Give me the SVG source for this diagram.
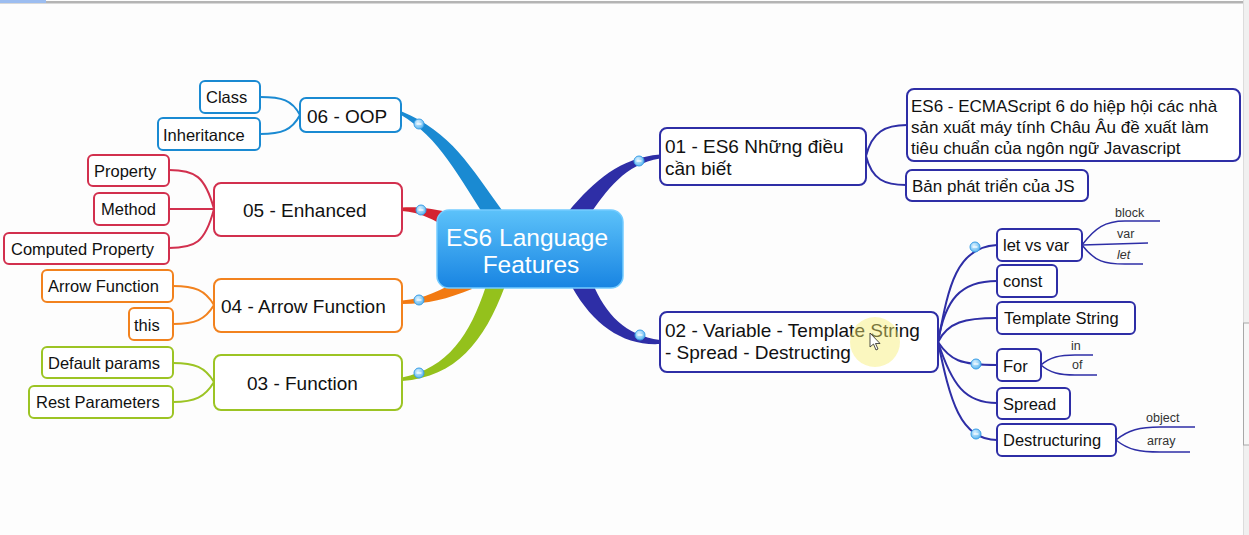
<svg xmlns="http://www.w3.org/2000/svg" width="1249" height="535" viewBox="0 0 1249 535">
<defs>
<linearGradient id="cg" x1="0" y1="0" x2="0" y2="1">
<stop offset="0" stop-color="#5cc2fa"/>
<stop offset="1" stop-color="#1884e2"/>
</linearGradient>
<radialGradient id="dg" cx="0.4" cy="0.35" r="0.7">
<stop offset="0" stop-color="#d8f0ff"/>
<stop offset="1" stop-color="#58b4ee"/>
</radialGradient>
<symbol id="dot" overflow="visible">
<circle cx="0" cy="0" r="5" fill="url(#dg)" stroke="#3a9ee6" stroke-width="1"/>
<line x1="-2.5" y1="0" x2="2.5" y2="0" stroke="#ffffff" stroke-width="1.2"/>
</symbol>
</defs>
<style>
.t{font-family:"Liberation Sans",Arial,sans-serif;fill:#111}
.m{font-size:19px}
.s{font-size:16.5px}
.l{font-size:12.5px;fill:#333}
.box{fill:#ffffff;stroke-width:2}
.b{stroke:#1a8ad2}
.r{stroke:#d2304e}
.o{stroke:#f2821e}
.g{stroke:#9cc424}
.n{stroke:#2e2ea6}
.c{fill:none;stroke-width:2}
.lf{fill:none;stroke:#2e2ea6;stroke-width:1.5}
</style>
<rect width="1249" height="535" fill="#fdfdfd"/>
<rect x="0" y="1" width="1243" height="2.5" fill="#b4b4b4"/>
<rect x="0" y="0" width="46" height="3" fill="#9cbdf0"/>
<rect x="1243" y="0" width="6" height="535" fill="#f0f0f0"/>
<line x1="1243.5" y1="0" x2="1243.5" y2="535" stroke="#dcdcdc"/>
<rect x="1243.5" y="323" width="6" height="122" fill="#f7f7f7" stroke="#a8a8a8"/>

<g id="connectors">
<path d="M504,213 C470,166 451,132 401.7,111.5 L400.3,114.5 C440,138 458,176 489,223 Z" fill="#1a8ad2"/>
<path d="M455,214 C435,209 420,206.5 402,207.5 L402,211 C420,212 435,220 450,230 Z" fill="#d42432"/>
<path d="M462,279 C440,290 425,299 402,300.5 L402,304 C428,304 447,299 472,289 Z" fill="#f27a12"/>
<path d="M486,286 C470,335 448,368 402,377.5 L402,381 C456,377 484,342 505,286 Z" fill="#94c11c"/>
<path d="M568,212 C595,180 620,158 660,154.5 L660,158.5 C625,164 607,190 588,217 Z" fill="#2e2ea6"/>
<path d="M592,282 C606,315 625,335 660,340 L660,344 C624,346 594,326 572,287 Z" fill="#2e2ea6"/>

<path class="c b" d="M300,115 C292,100 282,97 260,97"/>
<path class="c b" d="M300,115 C292,130 282,134 260,134"/>
<path class="c r" d="M214,209 C205,176 195,170 169,170"/>
<path class="c r" d="M214,209 L169,209"/>
<path class="c r" d="M214,209 C205,243 195,248 169,248"/>
<path class="c o" d="M214,305 C205,290 195,286 173,286"/>
<path class="c o" d="M214,305 C205,320 195,324 173,324"/>
<path class="c g" d="M214,382 C205,367 195,363 173,363"/>
<path class="c g" d="M214,382 C205,397 195,402 173,402"/>
<path class="c n" d="M866,156 C872,132 885,125 907,125"/>
<path class="c n" d="M866,156 C872,180 885,185 906,185"/>

<path class="c n" stroke-width="3.2" d="M938,342 C948,290 955,247 997,245"/>
<path class="c n" d="M938,342 C945,300 960,281 997,281"/>
<path class="c n" d="M938,342 C948,322 965,318 997,318"/>
<path class="c n" stroke-width="3.2" d="M938,342 C950,360 960,365 997,365"/>
<path class="c n" d="M938,342 C952,385 965,403 997,403"/>
<path class="c n" stroke-width="3.2" d="M938,342 C950,400 960,440 997,440"/>

<path class="lf" d="M1082,245 C1095,228 1105,221 1125,221 L1160,221"/>
<path class="lf" d="M1082,245 L1148,243"/>
<path class="lf" d="M1082,245 C1095,262 1105,264 1125,264 L1143,264"/>
<path class="lf" d="M1041,365 C1050,357 1060,355 1075,355 L1093,355"/>
<path class="lf" d="M1041,365 C1050,373 1060,375 1075,375 L1097,375"/>
<path class="lf" d="M1116,440 C1128,430 1140,427 1160,427 L1195,427"/>
<path class="lf" d="M1116,440 C1128,450 1140,452 1160,452 L1190,452"/>

<use href="#dot" x="419" y="124"/>
<use href="#dot" x="421" y="210"/>
<use href="#dot" x="419" y="300"/>
<use href="#dot" x="419" y="373"/>
<use href="#dot" x="639" y="161"/>
<use href="#dot" x="640" y="335"/>
<use href="#dot" x="975" y="247"/>
<use href="#dot" x="976" y="364"/>
<use href="#dot" x="976" y="434"/>
</g>

<g id="center">
<rect x="437" y="210" width="186" height="78" rx="12" fill="url(#cg)" stroke="#74ccff" stroke-width="1.5"/>
<text class="t" x="527" y="246" text-anchor="middle" font-size="24.5" style="fill:#ffffff">ES6 Language</text>
<text class="t" x="531" y="273" text-anchor="middle" font-size="24.5" style="fill:#ffffff">Features</text>
</g>

<g id="n06"><rect class="box b" x="300" y="98" width="101" height="34" rx="6"/><text class="t m" x="307" y="123">06 - OOP</text></g>
<g id="n06a"><rect class="box b" x="200" y="81" width="60" height="32" rx="5"/><text class="t s" x="206" y="103">Class</text></g>
<g id="n06b"><rect class="box b" x="158" y="118" width="102" height="32" rx="5"/><text class="t s" x="163" y="141">Inheritance</text></g>

<g id="n05"><rect class="box r" x="214" y="183" width="188" height="53" rx="7"/><text class="t m" x="243" y="217">05 - Enhanced</text></g>
<g id="n05a"><rect class="box r" x="88" y="155" width="81" height="31" rx="5"/><text class="t s" x="94" y="177">Property</text></g>
<g id="n05b"><rect class="box r" x="94" y="193" width="75" height="32" rx="5"/><text class="t s" x="101" y="215">Method</text></g>
<g id="n05c"><rect class="box r" x="4" y="233" width="165" height="31" rx="5"/><text class="t s" x="11" y="255">Computed Property</text></g>

<g id="n04"><rect class="box o" x="214" y="279" width="188" height="53" rx="7"/><text class="t m" x="221" y="313">04 - Arrow Function</text></g>
<g id="n04a"><rect class="box o" x="42" y="270" width="131" height="32" rx="5"/><text class="t s" x="48" y="292">Arrow Function</text></g>
<g id="n04b"><rect class="box o" x="129" y="308" width="44" height="32" rx="5"/><text class="t s" x="134" y="331">this</text></g>

<g id="n03"><rect class="box g" x="214" y="355" width="188" height="55" rx="7"/><text class="t m" x="247" y="390">03 - Function</text></g>
<g id="n03a"><rect class="box g" x="42" y="347" width="131" height="31" rx="5"/><text class="t s" x="48" y="369">Default params</text></g>
<g id="n03b"><rect class="box g" x="29" y="386" width="144" height="32" rx="5"/><text class="t s" x="36" y="408">Rest Parameters</text></g>

<g id="n01"><rect class="box n" x="660" y="128" width="206" height="57" rx="7"/><text class="t m" x="665" y="153">01 - ES6 Những điều</text><text class="t m" x="665" y="175">cần biết</text></g>
<g id="n01a"><rect class="box n" x="907" y="89" width="333" height="72" rx="7"/><text class="t" font-size="17" x="911" y="112">ES6 - ECMAScript 6 do hiệp hội các nhà</text><text class="t" font-size="17" x="911" y="133">sản xuất máy tính Châu Âu đề xuất làm</text><text class="t" font-size="17" x="911" y="154">tiêu chuẩn của ngôn ngữ Javascript</text></g>
<g id="n01b"><rect class="box n" x="906" y="170" width="182" height="31" rx="6"/><text class="t" font-size="17" x="912" y="192">Bản phát triển của JS</text></g>

<g id="n02"><rect class="box n" x="660" y="312" width="278" height="60" rx="7"/><text class="t m" x="665" y="337">02 - Variable - Template String</text><text class="t m" x="665" y="359">- Spread - Destructing</text></g>
<g id="n02a"><rect class="box n" x="997" y="229" width="85" height="32" rx="5"/><text class="t s" x="1003" y="251">let vs var</text></g>
<g id="n02b"><rect class="box n" x="997" y="265" width="60" height="32" rx="5"/><text class="t s" x="1003" y="287">const</text></g>
<g id="n02c"><rect class="box n" x="997" y="302" width="138" height="32" rx="5"/><text class="t s" x="1004" y="324">Template String</text></g>
<g id="n02d"><rect class="box n" x="997" y="349" width="44" height="32" rx="5"/><text class="t s" x="1003" y="372">For</text></g>
<g id="n02e"><rect class="box n" x="997" y="388" width="73" height="31" rx="5"/><text class="t s" x="1003" y="410">Spread</text></g>
<g id="n02f"><rect class="box n" x="997" y="424" width="119" height="32" rx="5"/><text class="t s" x="1003" y="446">Destructuring</text></g>

<g id="leaves">
<text class="t l" x="1115" y="217">block</text>
<text class="t l" x="1117" y="238">var</text>
<text class="t l" x="1117" y="259" font-style="italic">let</text>
<text class="t l" x="1071" y="350">in</text>
<text class="t l" x="1072" y="369">of</text>
<text class="t l" x="1146" y="422">object</text>
<text class="t l" x="1147" y="445">array</text>
</g>

<g id="cursor">
<circle cx="875" cy="342" r="25" fill="#f6ee70" fill-opacity="0.45"/>
<path d="M870,333 L870,347 L873.5,344 L876,350 L878,349 L875.5,343.5 L880,343.5 Z" fill="#ffffff" stroke="#222" stroke-width="0.8"/>
</g>
</svg>
